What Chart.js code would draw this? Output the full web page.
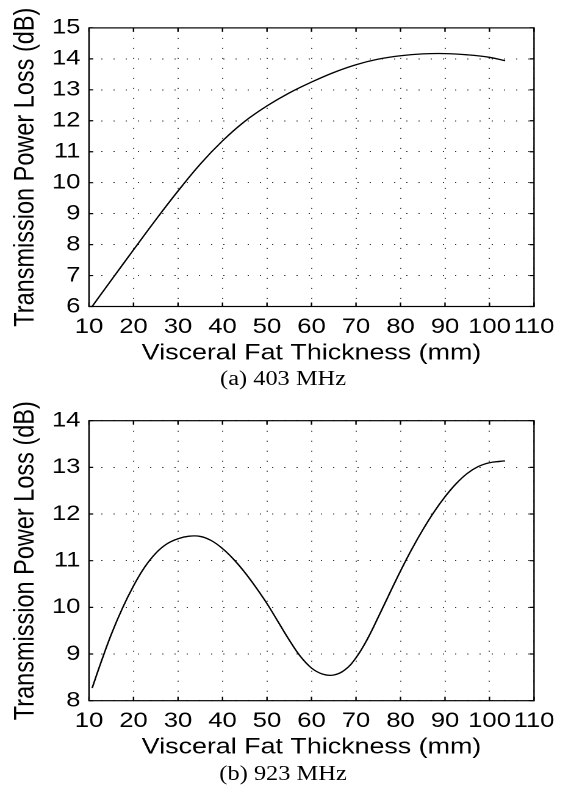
<!DOCTYPE html>
<html><head><meta charset="utf-8">
<script src="https://cdn.jsdelivr.net/npm/chart.js@4.4.0/dist/chart.umd.min.js"></script>
<style>
html,body{margin:0;padding:0;background:#fff;}
#page{position:relative;width:566px;height:787px;overflow:hidden;background:#fff;}
#stretch{position:absolute;left:0;top:0;width:464px;height:787px;transform:scaleX(1.22);transform-origin:0 0;}
canvas{position:absolute;left:0;}
.cap{position:absolute;left:0;width:464px;text-align:center;font-family:'Liberation Serif','Times New Roman',serif;font-size:20px;line-height:20px;color:#000;}
</style></head><body>
<div id="page"><div id="stretch">
<canvas id="cA" width="464" height="392" style="top:0;width:464px;height:392px"></canvas>
<div class="cap" style="top:368px">(a) 403 MHz</div>
<canvas id="cB" width="464" height="395" style="top:392px;width:464px;height:395px"></canvas>
<div class="cap" style="top:763px">(b) 923 MHz</div>
</div></div>
<script>
// ---- data ----
const xTitle = 'Visceral Fat Thickness (mm)';
const yTitle = 'Transmission Power Loss (dB)';
const xTickRange = [10, 110];
const yTickRangeA = [6, 15];
const yTickRangeB = [8, 14];

const thickness403 = [10.7, 15, 20, 25, 30, 35, 40, 45, 50, 55, 60, 65, 70, 75, 80, 85, 90, 95, 100, 103.5];
const loss403 = [6.0, 6.85, 7.83, 8.80, 9.73, 10.6, 11.35, 11.98, 12.48, 12.9, 13.25, 13.56, 13.81, 13.99, 14.1, 14.16, 14.17, 14.13, 14.05, 13.94];

const thickness923 = [10.7, 12.5, 15, 17.5, 20, 22.5, 25, 27.5, 30, 32.5, 35, 37.5, 40, 42.5, 45, 47.5, 50, 52.5, 55, 57.5, 60, 62.5, 65, 67.5, 70, 72.5, 75, 77.5, 80, 82.5, 85, 87.5, 90, 92.5, 95, 97.5, 100, 102.5, 103.5];
const loss923 = [8.27, 8.77, 9.42, 9.98, 10.46, 10.86, 11.16, 11.36, 11.47, 11.525, 11.52, 11.43, 11.26, 11.03, 10.75, 10.43, 10.08, 9.69, 9.3, 8.95, 8.7, 8.57, 8.55, 8.66, 8.92, 9.31, 9.79, 10.29, 10.78, 11.24, 11.66, 12.04, 12.37, 12.65, 12.87, 13.02, 13.1, 13.13, 13.14];

Chart.defaults.font.family = "'Liberation Sans', Arial, Helvetica, sans-serif";
Chart.defaults.color = '#000';

const framePlugin = {
  id: 'frame',
  afterDatasetsDraw(chart) {
    const {ctx, chartArea: a, scales: {x, y}} = chart;
    ctx.save();
    ctx.strokeStyle = '#000';
    ctx.lineWidth = 1.2;
    ctx.setLineDash([]);
    ctx.strokeRect(a.left, a.top, a.right - a.left, a.bottom - a.top);
    ctx.beginPath();
    x.ticks.forEach(t => {
      const p = x.getPixelForValue(t.value);
      ctx.moveTo(p, a.bottom); ctx.lineTo(p, a.bottom - 4);
      ctx.moveTo(p, a.top); ctx.lineTo(p, a.top + 4);
    });
    y.ticks.forEach(t => {
      const p = y.getPixelForValue(t.value);
      ctx.moveTo(a.left, p); ctx.lineTo(a.left + 3.5, p);
      ctx.moveTo(a.right, p); ctx.lineTo(a.right - 3.5, p);
    });
    ctx.stroke();
    ctx.restore();
  }
};

function makeChart(id, xs, ys, yRange, pad) {
  const grid = {color: '#333', lineWidth: 1, drawTicks: false};
  const border = {display: false, dash: [1, 9]};
  return new Chart(document.getElementById(id), {
    type: 'line',
    data: {datasets: [{
      data: xs.map((v, i) => ({x: v, y: ys[i]})),
      borderColor: '#000', borderWidth: 1.3, pointRadius: 0,
      tension: 0.4, fill: false
    }]},
    options: {
      responsive: false, animation: false, events: [], devicePixelRatio: 2,
      layout: {padding: pad},
      plugins: {legend: {display: false}, tooltip: {enabled: false}},
      scales: {
        x: {
          type: 'linear', min: xTickRange[0], max: xTickRange[1],
          grid, border,
          ticks: {stepSize: 10, autoSkip: false, maxRotation: 0, minRotation: 0, padding: 8, font: {size: 21}},
          title: {display: true, text: xTitle, font: {size: 22}, padding: {top: 0, bottom: 0}},
          afterFit: s => { s.height = 60; }
        },
        y: {
          type: 'linear', min: yRange[0], max: yRange[1],
          grid, border,
          ticks: {stepSize: 1, padding: 7, font: {size: 21}},
          title: {display: true, text: yTitle, font: {size: 23.5}, padding: {top: 7, bottom: 0}},
          afterFit: s => { s.width = 72.95; }
        }
      }
    },
    plugins: [framePlugin]
  });
}

makeChart('cA', thickness403, loss403, yTickRangeA, {left: 0, right: 26.3, top: 27.9, bottom: 25.5});
makeChart('cB', thickness923, loss923, yTickRangeB, {left: 0, right: 26.3, top: 28.7, bottom: 26.3});
</script>
</body></html>
